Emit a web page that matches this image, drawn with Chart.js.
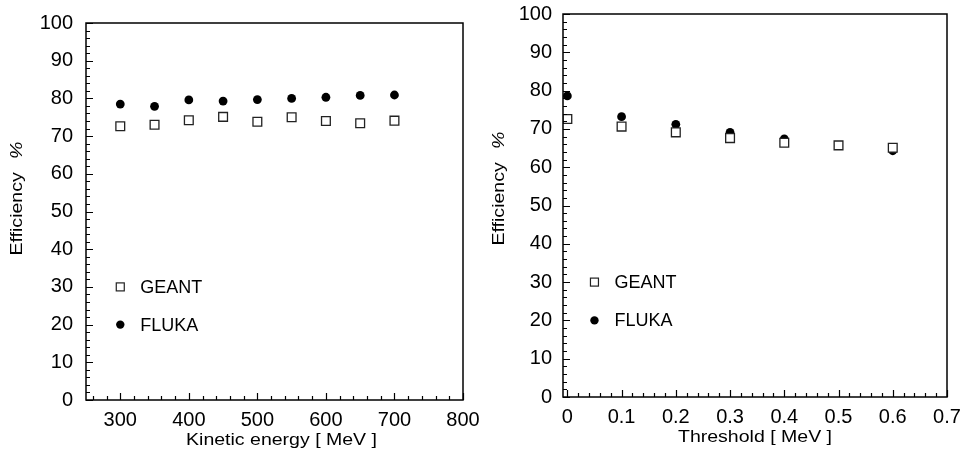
<!DOCTYPE html>
<html>
<head>
<meta charset="utf-8">
<script src="https://cdn.jsdelivr.net/npm/chart.js@4.4.1/dist/chart.umd.min.js"></script>
<style>
  html, body { margin: 0; padding: 0; background: #fff; }
  #wrap { position: relative; width: 964px; height: 450px; }
  .pane { position: absolute; top: 0; width: 482px; height: 450px; }
  #paneL { left: 0; }
  #paneR { left: 482px; }
</style>
</head>
<body>
<div id="wrap">
  <div class="pane" id="paneL"><canvas id="cL" width="482" height="450"></canvas></div>
  <div class="pane" id="paneR"><canvas id="cR" width="482" height="450"></canvas></div>
</div>
<script>
// ---------- data ----------
const energy = [300, 350, 400, 450, 500, 550, 600, 650, 700];
const geantEnergy = [72.6, 73.0, 74.2, 75.1, 73.8, 75.0, 74.0, 73.4, 74.1];
const flukaEnergy = [78.5, 77.9, 79.6, 79.3, 79.7, 80.0, 80.3, 80.8, 80.9];

const threshold = [0, 0.1, 0.2, 0.3, 0.4, 0.5, 0.6];
const geantThreshold = [72.6, 70.6, 69.1, 67.6, 66.4, 65.7, 65.1];
const flukaThreshold = [78.6, 73.2, 71.2, 69.1, 67.4, 65.7, 64.3];

const energyTicks = [300, 400, 500, 600, 700, 800];
const thresholdTicks = [0, 0.1, 0.2, 0.3, 0.4, 0.5, 0.6, 0.7];
const efficiencyTicks = [0, 10, 20, 30, 40, 50, 60, 70, 80, 90, 100];

const seriesNames = ['GEANT', 'FLUKA'];
const yTitle = 'Efficiency';
const yUnit = '%';
const xTitleEnergy = 'Kinetic energy [ MeV ]';
const xTitleThreshold = 'Threshold [ MeV ]';

// ---------- styles ----------
const FONT = '"Liberation Sans", Arial, Helvetica, sans-serif';
const TITLE_STRETCH = 1.22;

function pts(xs, ys) { return xs.map((x, i) => ({ x: x, y: ys[i] })); }

const framePlugin = {
  id: 'frame',
  afterDraw(chart, args, o) {
    const ctx = chart.ctx, a = chart.chartArea, xs = chart.scales.x, ys = chart.scales.y;
    ctx.save();
    ctx.strokeStyle = '#000';
    // inward ticks
    ctx.lineWidth = 1.2;
    ctx.beginPath();
    const i0x = Math.ceil(xs.min / o.minorX - 1e-9), i1x = Math.floor(xs.max / o.minorX + 1e-9);
    for (let i = i0x; i <= i1x; i++) {
      const v = i * o.minorX;
      const r = v / o.majorX;
      const major = Math.abs(r - Math.round(r)) < 1e-6;
      const px = Math.round(xs.getPixelForValue(v)) + 0.5;
      ctx.moveTo(px, a.bottom);
      ctx.lineTo(px, a.bottom - (major ? 7 : 4));
    }
    const i0y = Math.ceil(ys.min / o.minorY - 1e-9), i1y = Math.floor(ys.max / o.minorY + 1e-9);
    for (let i = i0y; i <= i1y; i++) {
      const v = i * o.minorY;
      const r = v / o.majorY;
      const major = Math.abs(r - Math.round(r)) < 1e-6;
      const py = Math.round(ys.getPixelForValue(v)) + 0.5;
      ctx.moveTo(a.left, py);
      ctx.lineTo(a.left + (major ? 7 : 4), py);
    }
    ctx.stroke();
    // frame
    ctx.lineWidth = 1.5;
    ctx.strokeRect(a.left, a.top, a.right - a.left, a.bottom - a.top);

    // in-plot legend
    ctx.font = '18px ' + FONT;
    ctx.textBaseline = 'middle';
    ctx.textAlign = 'left';
    ctx.fillStyle = '#000';
    const lx = xs.getPixelForValue(o.legendX);
    chart.data.datasets.forEach((ds, k) => {
      const ly = ys.getPixelForValue(o.legendY[k]);
      if (ds.pointStyle === 'rect') {
        ctx.fillStyle = '#fff';
        ctx.fillRect(lx - 4, ly - 4, 8, 8);
        ctx.lineWidth = 1.2;
        ctx.strokeStyle = '#222';
        ctx.strokeRect(lx - 4, ly - 4, 8, 8);
      } else {
        ctx.fillStyle = '#000';
        ctx.beginPath();
        ctx.arc(lx, ly, 4.2, 0, Math.PI * 2);
        ctx.fill();
      }
      ctx.fillStyle = '#000';
      ctx.fillText(ds.label, lx + 20, ly + 1);
    });

    // x title (horizontally stretched like the original)
    ctx.font = '16px ' + FONT;
    ctx.textAlign = 'center';
    ctx.textBaseline = 'alphabetic';
    ctx.save();
    ctx.translate((a.left + a.right) / 2 + o.xTitleShift, a.bottom + 45);
    ctx.scale(TITLE_STRETCH, 1);
    ctx.fillText(o.xTitle, 0, 0);
    ctx.restore();

    // y title: "Efficiency  %" rotated
    ctx.save();
    const cy = (a.top + a.bottom) / 2 - o.yTitleShift;
    ctx.translate(22, cy);
    ctx.rotate(-Math.PI / 2);
    ctx.scale(TITLE_STRETCH, 1);
    ctx.font = '16px ' + FONT;
    const w1 = ctx.measureText(yTitle).width;
    ctx.font = 'italic 16px ' + FONT;
    const w2 = ctx.measureText(yUnit).width;
    const gap = 11;
    const total = w1 + gap + w2;
    ctx.textAlign = 'left';
    ctx.font = '16px ' + FONT;
    ctx.fillText(yTitle, -total / 2, 0);
    ctx.font = 'italic 16px ' + FONT;
    ctx.fillText(yUnit, -total / 2 + w1 + gap, 0);
    ctx.restore();
    ctx.restore();
  }
};

function makeChart(canvasId, xs, g, f, xTicks, cfg) {
  return new Chart(document.getElementById(canvasId), {
    type: 'scatter',
    data: {
      datasets: [
        { label: seriesNames[0], data: pts(xs, g), pointStyle: 'rect', pointRadius: 6.2, pointHoverRadius: 6.2,
          backgroundColor: '#fff', borderColor: '#222', borderWidth: 1.3 },
        { label: seriesNames[1], data: pts(xs, f), pointStyle: 'circle', pointRadius: 4.4, pointHoverRadius: 4.4,
          backgroundColor: '#000', borderColor: '#000', borderWidth: 0 }
      ]
    },
    options: {
      responsive: false,
      animation: false,
      events: [],
      layout: { padding: { left: 0, top: cfg.top, right: cfg.right, bottom: 0 } },
      plugins: {
        legend: { display: false },
        tooltip: { enabled: false },
        frame: cfg.frame
      },
      scales: {
        x: {
          type: 'linear', min: cfg.xmin, max: cfg.xmax,
          afterBuildTicks: s => { s.ticks = xTicks.map(v => ({ value: v })); },
          afterFit: s => { s.height = 450 - cfg.bottom; s.paddingLeft = 0; s.paddingRight = 0; },
          grid: { display: false, drawTicks: false },
          border: { display: false },
          ticks: { color: '#000', font: { family: FONT, size: 20 }, padding: 8, maxRotation: 0,
                   autoSkip: false, callback: v => String(v) }
        },
        y: {
          type: 'linear', min: 0, max: 100,
          afterBuildTicks: s => { s.ticks = efficiencyTicks.map(v => ({ value: v })); },
          afterFit: s => { s.width = cfg.left; s.paddingTop = 0; s.paddingBottom = 0; },
          grid: { display: false, drawTicks: false },
          border: { display: false },
          ticks: { color: '#000', font: { family: FONT, size: 20 }, padding: cfg.ypad,
                   autoSkip: false, callback: v => String(v) }
        }
      }
    },
    plugins: [framePlugin]
  });
}

makeChart('cL', energy, geantEnergy, flukaEnergy, energyTicks, {
  xmin: 250, xmax: 800, left: 86, top: 23, right: 19, bottom: 400, ypad: 13,
  frame: { minorX: 20, majorX: 100, minorY: 2, majorY: 10, legendX: 300, legendY: [30, 20],
           xTitle: xTitleEnergy, xTitleShift: 7, yTitleShift: 13 }
});
makeChart('cR', threshold, geantThreshold, flukaThreshold, thresholdTicks, {
  xmin: -0.008, xmax: 0.7, left: 81, top: 14, right: 17, bottom: 397, ypad: 11,
  frame: { minorX: 0.02, majorX: 0.1, minorY: 2, majorY: 10, legendX: 0.05, legendY: [30, 20],
           xTitle: xTitleThreshold, xTitleShift: 0, yTitleShift: 17 }
});
</script>
</body>
</html>
